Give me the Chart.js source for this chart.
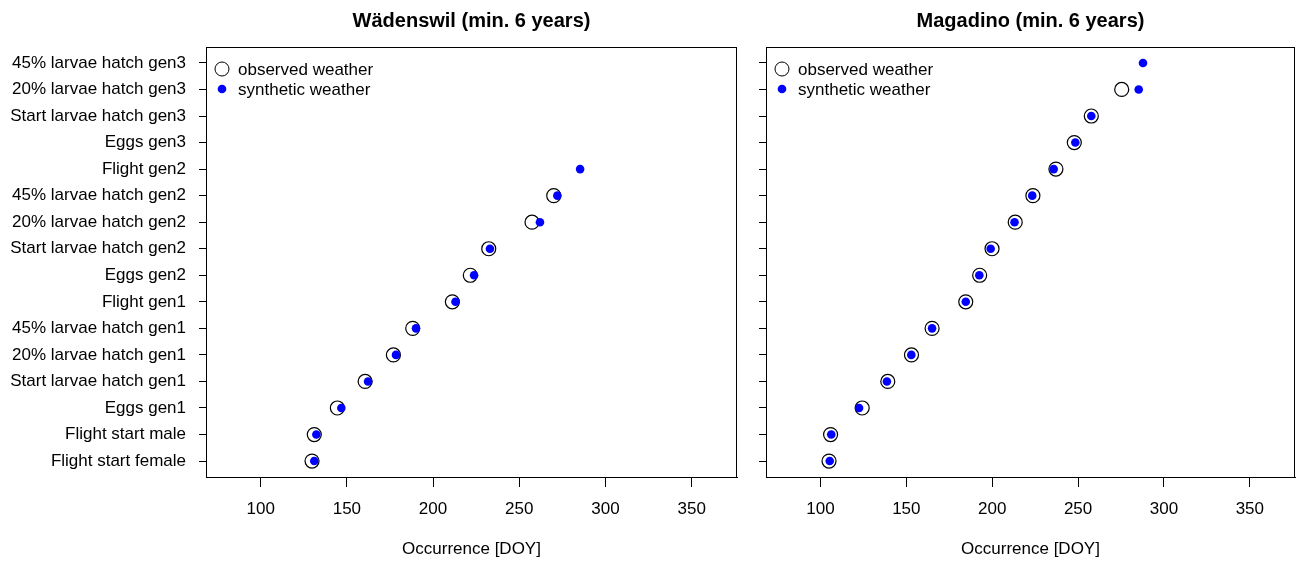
<!DOCTYPE html>
<html lang="en">
<head>
  <meta charset="UTF-8">
  <title>Occurrence [DOY] - Wädenswil / Magadino</title>
  <script src="https://cdn.jsdelivr.net/npm/chart.js"></script>
  <style>
    html, body { margin: 0; padding: 0; background: #fff; overflow: hidden; }
    canvas { position: absolute; top: 0; }
    #chartW { left: 0; }
    #chartM { left: 748px; }
  </style>
</head>
<body>
  <canvas id="chartW" width="748" height="561"></canvas>
  <canvas id="chartM" width="548" height="561"></canvas>

  <script>
    // categories, bottom to top
    const categories = [
      'Flight start female', 'Flight start male', 'Eggs gen1',
      'Start larvae hatch gen1', '20% larvae hatch gen1', '45% larvae hatch gen1',
      'Flight gen1', 'Eggs gen2', 'Start larvae hatch gen2',
      '20% larvae hatch gen2', '45% larvae hatch gen2', 'Flight gen2',
      'Eggs gen3', 'Start larvae hatch gen3', '20% larvae hatch gen3', '45% larvae hatch gen3'
    ];
    const xTicks = [100, 150, 200, 250, 300, 350];

    // Wädenswil
    const wadObserved  = [129.8, 131.1, 144.5, 160.6, 177.0, 188.2, 211.2, 221.6, 232.3, 257.4, 270.0, null, null, null, null, null];
    const wadSynthetic = [131.1, 132.3, 146.8, 162.3, 178.5, 190.1, 213.0, 223.8, 233.0, 262.0, 272.1, 285.3, null, null, null, null];

    // Magadino
    const magObserved  = [105.0, 105.9, 124.3, 139.2, 153.0, 165.0, 184.6, 192.7, 199.9, 213.4, 223.7, 237.1, 247.8, 257.7, 275.4, null];
    const magSynthetic = [105.4, 106.3, 122.5, 138.7, 152.9, 165.0, 184.6, 192.5, 199.1, 213.0, 223.3, 235.8, 248.4, 257.7, 285.3, 287.8];

    const FONT = "'Liberation Sans', Arial, Helvetica, sans-serif";

    function toPoints(values) {
      return values
        .map((v, i) => ({ x: v, y: i + 1 }))
        .filter(p => p.x !== null);
    }

    // box, title and legend drawn like the R plot
    function decor(title) {
      return {
        id: 'decor',
        afterDraw(chart) {
          const ctx = chart.ctx;
          const a = chart.chartArea;
          ctx.save();
          ctx.strokeStyle = '#000';
          ctx.lineWidth = 1;
          ctx.strokeRect(a.left + 0.5, a.top + 0.5, a.right - a.left - 1, a.bottom - a.top);

          ctx.fillStyle = '#000';
          ctx.font = 'bold 20px ' + FONT;
          ctx.textAlign = 'center';
          ctx.textBaseline = 'middle';
          ctx.fillText(title, (a.left + a.right) / 2, 21);

          // legend
          const lx = a.left + 16;
          ctx.beginPath();
          ctx.arc(lx, 69, 7, 0, Math.PI * 2);
          ctx.stroke();
          ctx.beginPath();
          ctx.fillStyle = '#0000ff';
          ctx.arc(lx, 89, 4.3, 0, Math.PI * 2);
          ctx.fill();
          ctx.fillStyle = '#000';
          ctx.font = '17px ' + FONT;
          ctx.textAlign = 'left';
          ctx.fillText('observed weather', a.left + 32, 70);
          ctx.fillText('synthetic weather', a.left + 32, 90);
          ctx.restore();
        }
      };
    }

    function makeChart(id, title, obs, syn, showLabels, yWidth, padRight) {
      return new Chart(document.getElementById(id), {
        type: 'scatter',
        data: {
          datasets: [
            {
              label: 'synthetic weather',
              data: toPoints(syn),
              order: 0,
              pointRadius: 4.3,
              pointBackgroundColor: '#0000ff',
              pointBorderWidth: 0
            },
            {
              label: 'observed weather',
              data: toPoints(obs),
              order: 1,
              pointRadius: 7,
              pointBackgroundColor: 'rgba(0,0,0,0)',
              pointBorderColor: '#000',
              pointBorderWidth: 1.2
            }
          ]
        },
        options: {
          responsive: false,
          animation: false,
          layout: { autoPadding: false, padding: { top: 47, right: padRight, left: 0, bottom: 0 } },
          plugins: {
            legend: { display: false },
            tooltip: { enabled: false }
          },
          scales: {
            x: {
              type: 'linear',
              min: 68.3,
              max: 376.3,
              afterBuildTicks: s => { s.ticks = xTicks.map(v => ({ value: v })); },
              afterFit: s => { s.height = 84; s.paddingLeft = 0; s.paddingRight = 0; },
              border: { color: '#000', width: 1 },
              grid: { drawOnChartArea: false, tickLength: 10, color: '#000' },
              ticks: { color: '#000', font: { family: FONT, size: 17 }, padding: 12, maxRotation: 0, autoSkip: false },
              title: {
                display: true,
                text: 'Occurrence [DOY]',
                color: '#000',
                font: { family: FONT, size: 17 },
                padding: { top: 1, bottom: 1 }
              }
            },
            y: {
              type: 'linear',
              min: 0.4,
              max: 16.6,
              afterBuildTicks: s => { s.ticks = categories.map((c, i) => ({ value: i + 1 })); },
              afterFit: s => { s.width = yWidth; s.paddingTop = 0; s.paddingBottom = 0; },
              border: { color: '#000', width: 1 },
              grid: { drawOnChartArea: false, tickLength: 7, color: '#000' },
              ticks: {
                display: showLabels,
                color: '#000',
                font: { family: FONT, size: 17 },
                padding: 13,
                autoSkip: false,
                callback: v => categories[v - 1]
              }
            }
          }
        },
        plugins: [decor(title)]
      });
    }

    makeChart('chartW', 'Wädenswil (min. 6 years)', wadObserved, wadSynthetic, true, 206, 11);
    makeChart('chartM', 'Magadino (min. 6 years)', magObserved, magSynthetic, false, 18, 1);
  </script>
</body>
</html>
